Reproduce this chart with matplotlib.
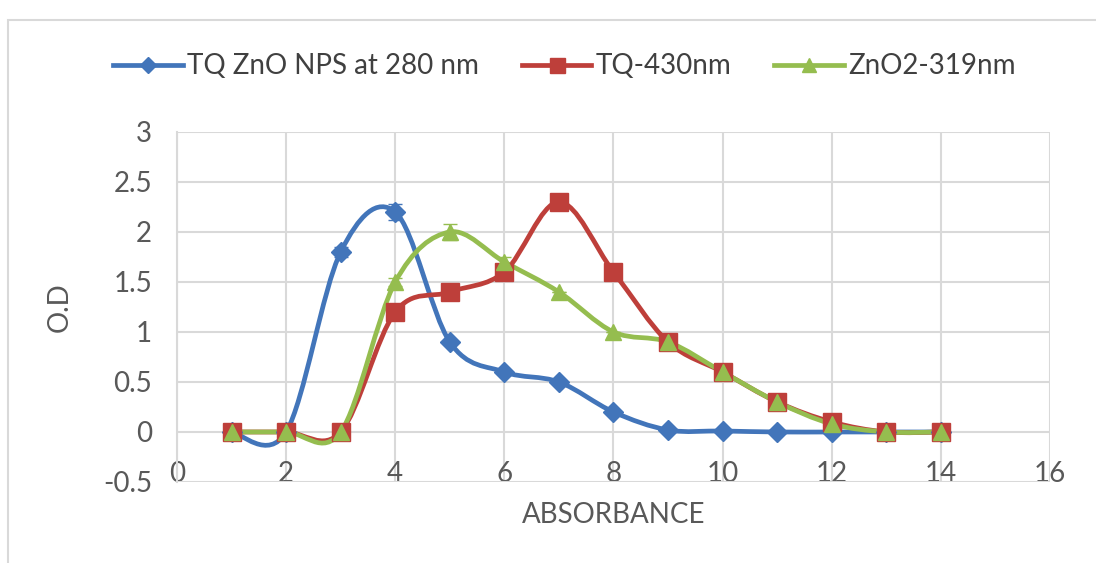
import matplotlib
matplotlib.use("Agg")
import matplotlib.pyplot as plt
from matplotlib.path import Path
from matplotlib.patches import PathPatch, Rectangle
from matplotlib.lines import Line2D
import numpy as np

plt.rcParams['font.family'] = ['Lato', 'DejaVu Sans']

# data
x = [1, 2, 3, 4, 5, 6, 7, 8, 9, 10, 11, 12, 13, 14]
tq_zno = [0, 0, 1.8, 2.2, 0.9, 0.6, 0.5, 0.2, 0.02, 0.01, 0, 0, 0, 0]
tq_zno_err = [0, 0, 0.05, 0.08, 0, 0, 0, 0, 0, 0, 0, 0, 0, 0]
tq_430 = [0, 0, 0, 1.2, 1.4, 1.6, 2.3, 1.6, 0.9, 0.6, 0.3, 0.1, 0, 0]
tq_430_err = [0, 0, 0, 0, 0, 0, 0.04, 0, 0, 0, 0, 0, 0, 0]
zno2 = [0, 0, 0, 1.5, 2.0, 1.7, 1.4, 1.0, 0.9, 0.6, 0.3, 0.08, 0, 0]
zno2_err = [0, 0, 0, 0.04, 0.08, 0.05, 0, 0, 0, 0, 0, 0, 0, 0]

labels = ['TQ ZnO NPS at 280 nm', 'TQ-430nm', 'ZnO2-319nm']
colors = ['#4275BA', '#BE3F3A', '#95BD4F']
markers = ['D', 's', '^']
msizes = [10, 13.5, 12]


def smooth_path(xs, ys):
    # Excel-style smoothed line: cubic bezier through every point
    p = np.column_stack([xs, ys]).astype(float)
    n = len(p)
    verts = [p[0]]
    codes = [Path.MOVETO]
    for i in range(n - 1):
        p0 = p[i - 1] if i > 0 else p[i]
        p3 = p[i + 2] if i + 2 < n else p[i + 1]
        c1 = p[i] + (p[i + 1] - p0) / 6.0
        c2 = p[i + 1] - (p3 - p[i]) / 6.0
        verts += [c1, c2, p[i + 1]]
        codes += [Path.CURVE4] * 3
    return Path(verts, codes)


fig = plt.figure(figsize=(10.96, 5.63), dpi=100)
fig.patches.append(Rectangle((8 / 1096, -0.05), 1.1, 1 - 20 / 563 + 0.05,
                             transform=fig.transFigure, fill=False,
                             edgecolor='#d9d9d9', linewidth=1.5))
ax = fig.add_axes([0.1615, 0.1439, 0.7965, 0.6217])

series = [(tq_zno, tq_zno_err), (tq_430, tq_430_err), (zno2, zno2_err)]
handles = []
for (ys, err), c, m, ms, lab in zip(series, colors, markers, msizes, labels):
    ax.add_patch(PathPatch(smooth_path(x, ys), facecolor='none', edgecolor=c,
                           linewidth=3.4, zorder=3, capstyle='round'))
    ax.errorbar(x, ys, yerr=err, fmt='none', ecolor=c, elinewidth=1.5,
                capsize=5, zorder=3)
    ax.plot(x, ys, linestyle='none', marker=m, markersize=ms, color=c,
            markeredgecolor=c, zorder=4)
    handles.append(Line2D([], [], color=c, linewidth=3.4, marker=m,
                          markersize=ms * 0.8))

ax.set_xlim(0, 16)
ax.set_ylim(-0.5, 3)
ax.set_xticks(np.arange(0, 17, 2))
ax.set_yticks([-0.5, 0, 0.5, 1, 1.5, 2, 2.5, 3])
ax.set_yticklabels(['-0.5', '0', '0.5', '1', '1.5', '2', '2.5', '3'])
ax.grid(True, color='#d9d9d9', linewidth=1.5)
ax.set_axisbelow(True)
for s in ['top', 'right', 'bottom']:
    ax.spines[s].set_visible(False)
ax.spines['left'].set_color('#d9d9d9')
ax.spines['left'].set_linewidth(1.5)
ax.tick_params(axis='both', length=0, labelsize=20, colors='#595959')
ax.tick_params(axis='x', pad=-15)
ax.tick_params(axis='y', pad=18)

ax.set_xlabel('ABSORBANCE', fontsize=20, color='#595959', labelpad=11)
ax.set_ylabel('O.D', fontsize=20, color='#595959', labelpad=22)

fig.legend(handles, labels, loc='center', bbox_to_anchor=(0.515, 0.882), ncol=3,
           frameon=False, fontsize=20, handlelength=2.5, columnspacing=1.55,
           handletextpad=0.15, labelcolor='#404040')

fig.savefig('out.png', dpi=100)
